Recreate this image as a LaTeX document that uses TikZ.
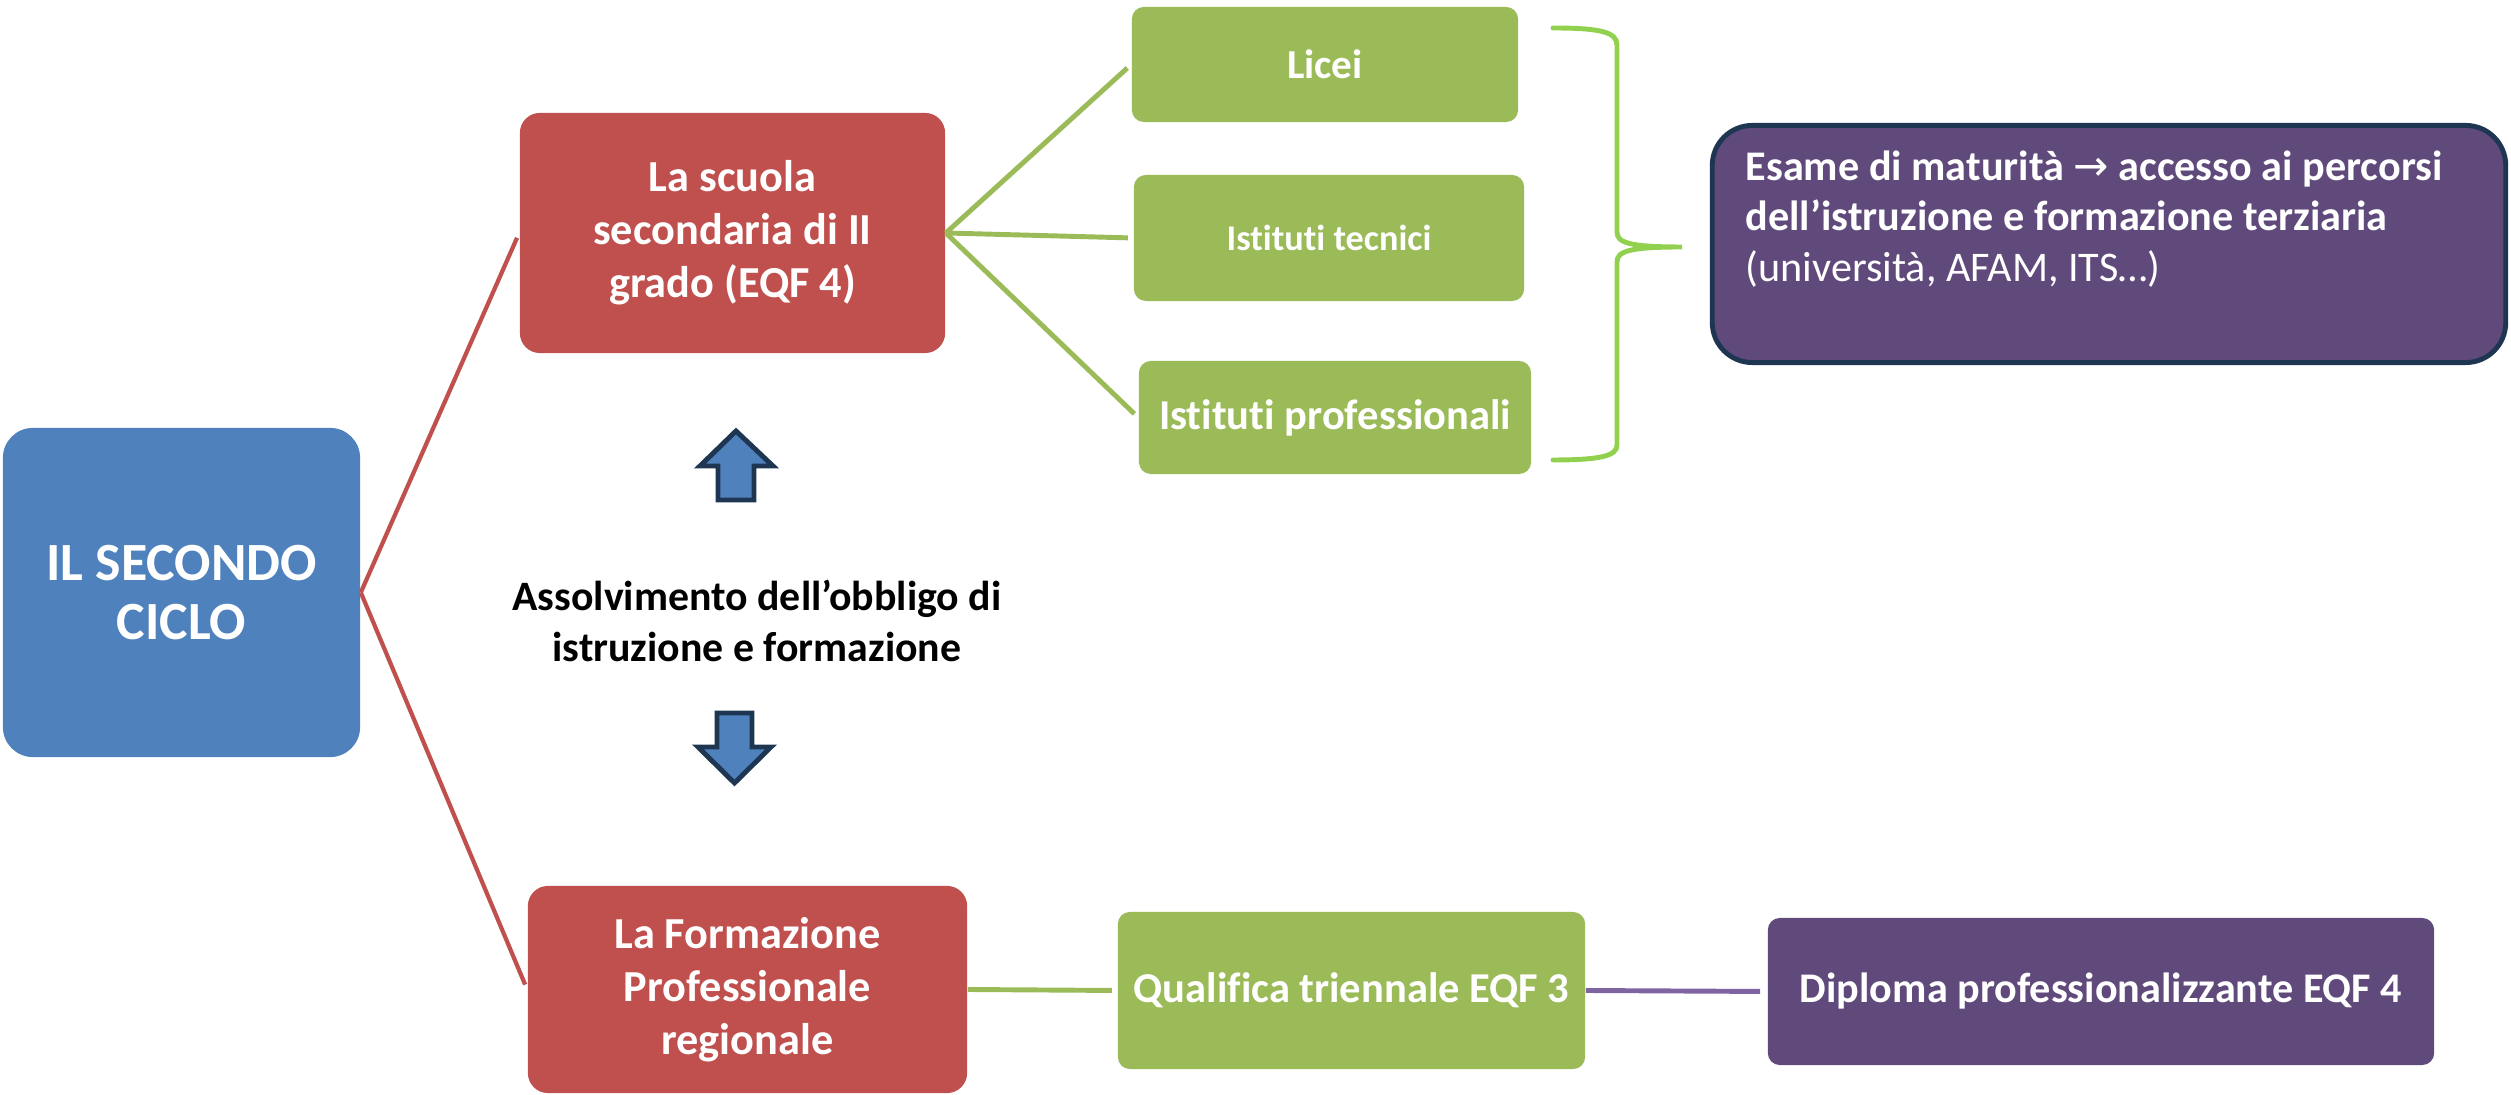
\documentclass[tikz,border=0pt]{standalone}
\usepackage{fontspec}
\setmainfont{Carlito}[Ligatures=NoCommon]
\newfontfamily\arrowfont{DejaVu Sans}
\usetikzlibrary{positioning, calc}
\definecolor{cicloblue}{HTML}{4F81BD}
\definecolor{gradored}{HTML}{C0504D}
\definecolor{percorsogreen}{HTML}{9BBB59}
\definecolor{bracegreen}{HTML}{92D050}
\definecolor{esitopurple}{HTML}{604A7B}
\definecolor{linkpurple}{HTML}{8064A2}
\definecolor{bordernavy}{HTML}{1F3652}
\tikzset{
    x=0.01cm, y=-0.01cm, % one unit = one pixel of the layout, y runs downwards
    box/.style={ % Sets the properties for each coloured box
        text=white,
        align=center,
        inner sep=0pt,
        font=\bfseries
    },
    ciclobox/.style={box, fill=cicloblue, rounded corners=0.3cm},
    gradobox/.style={box, fill=gradored, rounded corners=0.2cm,
        font=\bfseries\fontsize{12.6}{15.1}\selectfont},
    percorsobox/.style={box, fill=percorsogreen, rounded corners=0.12cm},
    esitobox/.style={box, fill=esitopurple, rounded corners=0.12cm},
    esamebox/.style={box, fill=esitopurple, draw=bordernavy, line width=1.4pt,
        rounded corners=0.4cm},
    blockarrow/.style={fill=cicloblue, draw=bordernavy, line width=1.4pt}, % the two fat arrows
    redlink/.style={draw=gradored, line width=1.2pt, shorten >=1.5pt},
    greenlink/.style={draw=percorsogreen, line width=1.4pt, shorten >=1.5pt},
    purplelink/.style={draw=linkpurple, line width=1.4pt, shorten >=2pt},
}

\begin{document}
\begin{tikzpicture}
    \useasboundingbox (0,0) rectangle (2511,1095);

    \node[ciclobox, minimum width=3.57cm, minimum height=3.29cm,
          font=\bfseries\fontsize{15.3}{16.8}\selectfont]          (ciclo)     at (181.5,592.5)  {IL SECONDO\\CICLO};
    \node[gradobox, minimum width=4.25cm, minimum height=2.40cm]  (scuola)    at (732.5,233)    {La scuola\\secondaria di II\\grado (EQF 4)};
    \node[gradobox, minimum width=4.39cm, minimum height=2.07cm]  (formaz)    at (747.5,989.5)  {La Formazione\\Professionale\\regionale};

    \node[percorsobox, minimum width=3.86cm, minimum height=1.15cm,
          font=\bfseries\fontsize{11.7}{14}\selectfont]             (licei)     at (1325,64.5)    {Licei};
    \node[percorsobox, minimum width=3.90cm, minimum height=1.26cm,
          font=\bfseries\fontsize{10.3}{12}\selectfont]             (tecnici)   at (1329,238)     {Istituti tecnici};
    \node[percorsobox, minimum width=3.92cm, minimum height=1.13cm,
          font=\bfseries\fontsize{12.1}{14}\selectfont]             (profess)   at (1335,417.5)   {Istituti professionali};
    \node[percorsobox, minimum width=4.67cm, minimum height=1.57cm,
          font=\bfseries\fontsize{12.1}{14}\selectfont]             (qualifica) at (1351.5,990.5) {Qualifica triennale EQF 3};
    \node[esitobox, minimum width=6.66cm, minimum height=1.47cm,
          font=\bfseries\fontsize{12}{14}\selectfont]               (diploma)   at (2101,991.5)   {Diploma professionalizzante EQF 4};

    \node[esamebox, minimum width=7.93cm, minimum height=2.37cm]  (esame)     at (2109,244)     {};
    \node[box, anchor=west, align=left, font=\fontsize{12}{14.3}\selectfont]
        (esametext) at (1745,219)
        {\textbf{Esame di maturità {\arrowfont\mdseries →} accesso ai percorsi}\\
         \textbf{dell’istruzione e formazione terziaria}\\
         (università, AFAM, ITS…)};

    \node[box, text=black, font=\bfseries\fontsize{11.9}{14.5}\selectfont]
        (obbligo) at (757,621) {Assolvimento dell’obbligo di\\istruzione e formazione};

    % fat arrows above and below the text
    \draw[blockarrow] (736,431) -- ++(37,35) -- ++(-19,0) -- ++(0,34) -- ++(-36,0) -- ++(0,-34) -- ++(-18,0) -- cycle;
    \draw[blockarrow] (734.5,783) -- ++(36.5,-36) -- ++(-19,0) -- ++(0,-34) -- ++(-35,0) -- ++(0,34) -- ++(-19,0) -- cycle;

    \draw   (ciclo.east)     edge[redlink]    (scuola.west)
            (ciclo.east)     edge[redlink]    (formaz.west)
            (scuola.east)    edge[greenlink]  (licei.west)
            (scuola.east)    edge[greenlink]  (tecnici.west)
            (scuola.east)    edge[greenlink]  (profess.west)
            (formaz.east)    edge[greenlink]  (qualifica.west)
            (qualifica.east) edge[purplelink] (diploma.west)
    ;

    % brace grouping the three schools
    \coordinate (bracetop) at (1553,28);
    \coordinate (bracetip) at (1682,247);
    \coordinate (bracebot) at (1553,460);
    \draw[draw=bracegreen, line width=1.4pt, line cap=round]
        (bracetop) .. controls (1600,28) and (1617,32) .. (1617,45)
        -- (1617,232) .. controls (1617,243) and (1630,247) .. (bracetip)
        .. controls (1630,247) and (1617,251) .. (1617,262)
        -- (1617,445) .. controls (1617,456) and (1600,460) .. (bracebot);
\end{tikzpicture}
\end{document}
